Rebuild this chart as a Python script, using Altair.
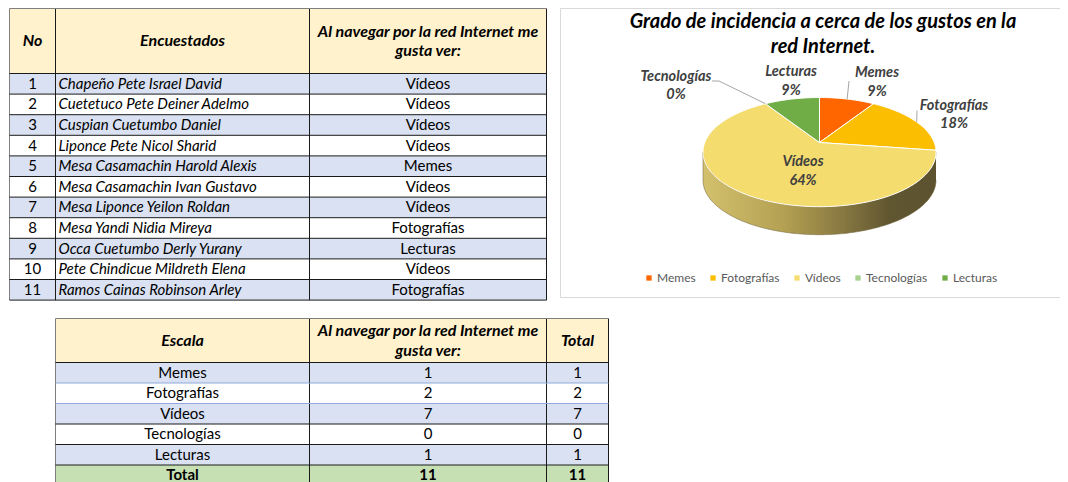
import numpy as np
import pandas as pd
import altair as alt

# ---------------- data ----------------
numeros = list(range(1, 12))
encuestados = [
    "Chapeño Pete Israel David", "Cuetetuco Pete Deiner Adelmo", "Cuspian Cuetumbo Daniel",
    "Liponce Pete Nicol Sharid", "Mesa Casamachin Harold Alexis", "Mesa Casamachin Ivan Gustavo",
    "Mesa Liponce Yeilon Roldan", "Mesa Yandi Nidia Mireya", "Occa Cuetumbo Derly Yurany",
    "Pete Chindicue Mildreth Elena", "Ramos Cainas Robinson Arley",
]
respuestas = ["Vídeos", "Vídeos", "Vídeos", "Vídeos", "Memes", "Vídeos", "Vídeos",
              "Fotografías", "Lecturas", "Vídeos", "Fotografías"]
escala = ["Memes", "Fotografías", "Vídeos", "Tecnologías", "Lecturas"]
conteo = [1, 2, 7, 0, 1]
total_conteo = [1, 2, 7, 0, 1]
pregunta = ["Al navegar por la red Internet me", "gusta ver:"]
titulo = ["Grado de incidencia a cerca de los gustos en la", "red Internet."]
colores = ["#FF6600", "#FBBE00", "#F4DC6E", "#A9D08E", "#70AD47"]

# ---------------- layout ----------------
FONT = "Lato"
W, H = 1052, 474
xs = alt.Scale(domain=[8, 8 + W], nice=False, zero=False)
ys = alt.Scale(domain=[8, 8 + H], nice=False, zero=False, reverse=True)

T1_X = [9.5, 55.5, 309.5, 546.5]
T1_TOP, T1_HEAD, T1_ROW = 8.5, 73.5, 20.6
T2_X = [55.5, 309.5, 546.5, 608.5]
T2_TOP, T2_HEAD, T2_ROW = 318.5, 362.5, 20.5
HEAD_BG, BLUE_BG, WHITE_BG, GREEN_BG = "#FFF2CC", "#D9E1F2", "#FFFFFF", "#C6E0B4"
LINE, BORDER, BLUE_LINE = "#1a1a1a", "#7f7f7f", "#8EA9DB"
ROW_FS, HEAD_FS, TITLE_FS, LABEL_FS = 15, 16, 20, 14.5

# pie geometry (perspective projection of a tilted disc)
PCX, PCY, PRX, PRY, K, DEPTH = 819.5, 142.5, 114.7, 52.9, 0.176, 28

LABEL_POS = {"Memes": (877, 73, 91.5), "Fotografías": (954, 105.5, 124),
             "Vídeos": (803, 162, 180.5), "Tecnologías": (676, 76.5, 95),
             "Lecturas": (791, 72, 90.5)}
LEADER_END = {"Memes": [(849, 81)], "Fotografías": [(917, 110.5)],
              "Tecnologías": [(719, 81), (712, 81)]}


def X(f="x"):
    return alt.X(f"{f}:Q", scale=xs, axis=None)


def Y(f="y"):
    return alt.Y(f"{f}:Q", scale=ys, axis=None)


# ---------------- cells ----------------
cells = []
cells.append(dict(x=T1_X[0], x2=T1_X[-1], y=T1_TOP, y2=T1_HEAD, c=HEAD_BG))
for i in range(len(numeros)):
    y0 = T1_HEAD + i * T1_ROW
    cells.append(dict(x=T1_X[0], x2=T1_X[-1], y=y0, y2=y0 + T1_ROW, c=BLUE_BG if i % 2 == 0 else WHITE_BG))
cells.append(dict(x=T2_X[0], x2=T2_X[-1], y=T2_TOP, y2=T2_HEAD, c=HEAD_BG))
for j in range(len(escala) + 1):
    y0 = T2_HEAD + j * T2_ROW
    c = GREEN_BG if j == len(escala) else (BLUE_BG if j % 2 == 0 else WHITE_BG)
    cells.append(dict(x=T2_X[0], x2=T2_X[-1], y=y0, y2=y0 + T2_ROW, c=c))
cells_df = pd.DataFrame(cells)

# ---------------- lines ----------------
lines = []
t1_bottom = T1_HEAD + len(numeros) * T1_ROW
for k, xv in enumerate(T1_X):
    lines.append(dict(x=xv, x2=xv, y=T1_TOP, y2=t1_bottom, c=BORDER if k == 0 else LINE))
lines.append(dict(x=T1_X[0], x2=T1_X[-1], y=T1_TOP, y2=T1_TOP, c=BORDER))
for i in range(len(numeros) + 1):
    yv = T1_HEAD + i * T1_ROW
    lines.append(dict(x=T1_X[0], x2=T1_X[-1], y=yv, y2=yv, c=LINE))
t2_bottom = T2_HEAD + (len(escala) + 1) * T2_ROW
for k, xv in enumerate(T2_X):
    lines.append(dict(x=xv, x2=xv, y=T2_TOP, y2=t2_bottom, c=BORDER if k == 0 else LINE))
lines.append(dict(x=T2_X[0], x2=T2_X[-1], y=T2_TOP, y2=T2_TOP, c=BORDER))
for j in range(len(escala) + 1):
    yv = T2_HEAD + j * T2_ROW
    lines.append(dict(x=T2_X[0], x2=T2_X[-1], y=yv, y2=yv, c=BLUE_LINE if j in (1, 2) else LINE))
lines_df = pd.DataFrame(lines)

# ---------------- texts ----------------
def tl(rows, size, weight="normal", style="normal", align="center", color="#000000"):
    return alt.Chart(pd.DataFrame(rows)).mark_text(
        font=FONT, fontSize=size, fontWeight=weight, fontStyle=style, align=align,
        baseline="middle", color=color,
    ).encode(x=X(), y=Y(), text="t:N")


c1 = [(T1_X[k] + T1_X[k + 1]) / 2 for k in range(3)]
c2 = [(T2_X[k] + T2_X[k + 1]) / 2 for k in range(3)]
r1 = [T1_HEAD + (i + 0.5) * T1_ROW for i in range(len(numeros))]
r2 = [T2_HEAD + (j + 0.5) * T2_ROW for j in range(len(escala) + 1)]

head_rows = [dict(x=c1[0], y=41, t="No"), dict(x=c1[1], y=41, t="Encuestados"),
             dict(x=c1[2], y=31.5, t=pregunta[0]), dict(x=c1[2], y=50.5, t=pregunta[1]),
             dict(x=c2[0], y=341, t="Escala"), dict(x=c2[1], y=330.5, t=pregunta[0]),
             dict(x=c2[1], y=350.5, t=pregunta[1]), dict(x=c2[2], y=341, t="Total")]
num_rows = [dict(x=c1[0], y=r1[i], t=str(n)) for i, n in enumerate(numeros)]
name_rows = [dict(x=T1_X[1] + 3, y=r1[i], t=n) for i, n in enumerate(encuestados)]
resp_rows = [dict(x=c1[2], y=r1[i], t=r) for i, r in enumerate(respuestas)]
t2_rows = []
for j, e in enumerate(escala):
    t2_rows += [dict(x=c2[0], y=r2[j], t=e), dict(x=c2[1], y=r2[j], t=str(conteo[j])),
                dict(x=c2[2], y=r2[j], t=str(total_conteo[j]))]
tot_rows = [dict(x=c2[0], y=r2[-1], t="Total"), dict(x=c2[1], y=r2[-1], t=str(sum(conteo))),
            dict(x=c2[2], y=r2[-1], t=str(sum(total_conteo)))]

# ---------------- pie ----------------
def proj(theta_deg, drop=0.0):
    t = np.radians(theta_deg)
    u, v = np.sin(t), np.cos(t)
    d = 1 + K * v
    return PCX + PRX * u / d, PCY - PRY * v / d + drop


vals = np.array(conteo, dtype=float)
frac = vals / vals.sum()
ends = np.cumsum(frac) * 360
starts = ends - frac * 360

pie_pts = []
for s, a0, a1 in zip(escala, starts, ends):
    if a1 - a0 <= 0:
        continue
    n = max(int((a1 - a0) / 1.0), 2)
    pts = [(PCX, PCY)] + [proj(a) for a in np.linspace(a0, a1, n + 1)] + [(PCX, PCY)]
    for o, (px, py) in enumerate(pts):
        pie_pts.append(dict(s=s, o=o, x=px, y=py))
pie_df = pd.DataFrame(pie_pts)

# front wall between silhouette angles (cos theta = -K)
sil = np.degrees(np.arccos(-K))
wall_angles = np.linspace(sil, 360 - sil, 160)
wall = [proj(a) for a in wall_angles] + [proj(a, DEPTH) for a in wall_angles[::-1]]
wall_df = pd.DataFrame([dict(o=o, x=p[0], y=p[1]) for o, p in enumerate(wall)])

wall_grad = alt.LinearGradient(
    gradient="linear", x1=0, x2=1, y1=0, y2=0,
    stops=[alt.GradientStop(offset=0, color="#D3C16E"),
           alt.GradientStop(offset=0.35, color="#B3A052"),
           alt.GradientStop(offset=0.6, color="#887841"),
           alt.GradientStop(offset=0.8, color="#605630"),
           alt.GradientStop(offset=1, color="#5C5230")])

# pie labels
lab_name, lab_pct = [], []
for s, f in zip(escala, frac):
    x0, yn, yp = LABEL_POS[s]
    lab_name.append(dict(x=x0, y=yn, t=s))
    lab_pct.append(dict(x=x0, y=yp, t=f"{round(f * 100):.0f}%"))

leaders = []
mid = {s: (a0 + a1) / 2 for s, a0, a1 in zip(escala, starts, ends)}
for s, pts in LEADER_END.items():
    prev = proj(mid[s])
    for p in pts:
        leaders.append(dict(x=prev[0], y=prev[1], x2=p[0], y2=p[1]))
        prev = p
lead_df = pd.DataFrame(leaders)

# ---------------- layers ----------------
cells_l = alt.Chart(cells_df).mark_rect().encode(
    x=X(), x2="x2:Q", y=Y(), y2="y2:Q", color=alt.Color("c:N", scale=None))
lines_l = alt.Chart(lines_df).mark_rule(strokeWidth=1).encode(
    x=X(), x2="x2:Q", y=Y(), y2="y2:Q", stroke=alt.Stroke("c:N", scale=None))

box_l = alt.Chart(pd.DataFrame([dict(x=560.5, x2=1075, y=8.5, y2=297.5)])).mark_rect(
    fill="white", stroke="#D9D9D9", strokeWidth=1).encode(x=X(), x2="x2:Q", y=Y(), y2="y2:Q")

wall_l = alt.Chart(wall_df).mark_line(fill=wall_grad, stroke="#6a5f35", strokeWidth=0.5).encode(
    x=X(), y=Y(), order="o:Q")

pie_l = alt.Chart(pie_df).mark_line(stroke="white", strokeWidth=1, strokeJoin="round").encode(
    x=X(), y=Y(), order="o:Q", detail="s:N",
    fill=alt.Fill("s:N", scale=alt.Scale(domain=escala, range=colores),
                  legend=alt.Legend(orient="none", legendX=635, legendY=264, direction="horizontal",
                                    title=None, symbolType="square", symbolSize=28,
                                    symbolStrokeWidth=0, labelFont=FONT, labelFontSize=12,
                                    labelColor="#595959", labelOffset=2, columnPadding=11,
                                    gridAlign="none")))

lead_l = alt.Chart(lead_df).mark_rule(stroke="#A6A6A6", strokeWidth=1).encode(
    x=X(), x2="x2:Q", y=Y(), y2="y2:Q")

title_rows = [dict(x=823, y=22, t=titulo[0]), dict(x=823, y=47, t=titulo[1])]

chart = alt.layer(
    cells_l, lines_l, box_l, wall_l, pie_l, lead_l,
    tl(head_rows, HEAD_FS, weight="bold", style="italic"),
    tl(num_rows, ROW_FS),
    tl(name_rows, ROW_FS, style="italic", align="left"),
    tl(resp_rows, ROW_FS),
    tl(t2_rows, ROW_FS),
    tl(tot_rows, ROW_FS, weight="bold"),
    tl(title_rows, TITLE_FS, weight="bold", style="italic"),
    tl(lab_name, LABEL_FS, weight="bold", style="italic", color="#404040"),
    tl(lab_pct, LABEL_FS, weight="bold", style="italic", color="#404040"),
).properties(
    width=W, height=H, padding=0, autosize=alt.AutoSizeParams(type="none"), background="white"
).configure_view(stroke=None)

chart.save("out.html", embed_options={"renderer": "svg", "actions": False})
